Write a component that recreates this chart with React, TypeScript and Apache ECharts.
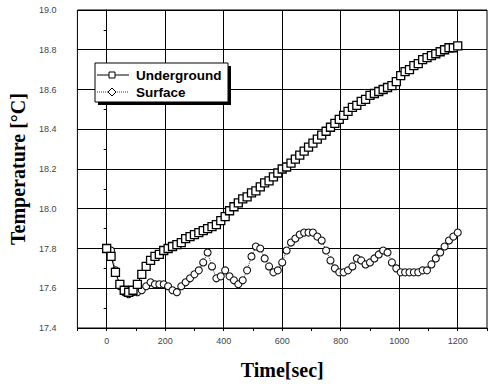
import React, { useEffect, useRef } from "react";
import * as echarts from "echarts";

const timeSec = [
  0, 15, 30, 45, 60, 75, 90, 105, 120, 135, 150, 165, 180, 195, 210, 225, 240, 255, 270, 285,
  300, 315, 330, 345, 360, 375, 390, 405, 420, 435, 450, 465, 480, 495, 510, 525, 540, 555, 570, 585,
  600, 615, 630, 645, 660, 675, 690, 705, 720, 735, 750, 765, 780, 795, 810, 825, 840, 855, 870, 885,
  900, 915, 930, 945, 960, 975, 990, 1005, 1020, 1035, 1050, 1065, 1080, 1095, 1110, 1125, 1140, 1155, 1170, 1185,
  1200,
];

const underground = [
  17.8, 17.76, 17.68, 17.62, 17.59, 17.58, 17.59, 17.62, 17.67, 17.71, 17.74, 17.76, 17.77, 17.79, 17.8, 17.81, 17.82, 17.83, 17.85, 17.86,
  17.87, 17.88, 17.89, 17.9, 17.91, 17.92, 17.94, 17.96, 17.99, 18.01, 18.03, 18.05, 18.06, 18.08, 18.09, 18.11, 18.13, 18.14, 18.16, 18.18,
  18.2, 18.21, 18.23, 18.25, 18.27, 18.29, 18.31, 18.33, 18.35, 18.37, 18.39, 18.41, 18.43, 18.45, 18.47, 18.49, 18.51, 18.52, 18.54, 18.55,
  18.57, 18.58, 18.59, 18.6, 18.61, 18.62, 18.64, 18.67, 18.69, 18.7, 18.72, 18.73, 18.75, 18.76, 18.77, 18.78, 18.79, 18.8, 18.81, 18.81,
  18.82,
];

const surface = [
  17.8, 17.79, 17.69, 17.61, 17.58, 17.57, 17.58, 17.58, 17.59, 17.61, 17.63, 17.62, 17.62, 17.62, 17.61, 17.59, 17.58, 17.61, 17.63, 17.65,
  17.67, 17.69, 17.73, 17.78, 17.71, 17.65, 17.66, 17.69, 17.66, 17.64, 17.62, 17.64, 17.69, 17.76, 17.81, 17.8, 17.75, 17.71, 17.68, 17.69,
  17.73, 17.79, 17.83, 17.85, 17.87, 17.88, 17.88, 17.88, 17.86, 17.84, 17.79, 17.74, 17.7, 17.68, 17.68, 17.69, 17.71, 17.75, 17.74, 17.72,
  17.73, 17.75, 17.77, 17.79, 17.78, 17.73, 17.7, 17.68, 17.68, 17.68, 17.68, 17.68, 17.69, 17.69, 17.72, 17.75, 17.78, 17.81, 17.84, 17.86,
  17.88,
];

const xGridValues = [0, 200, 400, 600, 800, 1000, 1200];
const seriesNames = ["Underground", "Surface"];
const xTitle = "Time[sec]";
const yTitle = "Temperature [°C]";

export default function App() {
  const ref = useRef<HTMLDivElement>(null);

  useEffect(() => {
    if (!ref.current) return;
    const chart = echarts.init(ref.current, null, { renderer: "svg" });

    const lx = 95, ly = 63, lw = 133, lh = 39;

    chart.setOption({
      animation: false,
      backgroundColor: "#fff",
      grid: {
        left: 73,
        right: 2,
        top: 10,
        bottom: 57,
        show: true,
        borderColor: "#000",
        borderWidth: 1,
        backgroundColor: "transparent",
      },
      xAxis: {
        type: "value",
        min: -100,
        max: 1300,
        interval: 100,
        axisLine: { show: true, onZero: false, lineStyle: { color: "#000", width: 1 } },
        axisTick: { show: true, inside: false, length: 3, lineStyle: { color: "#000" } },
        splitLine: { show: false },
        axisLabel: {
          margin: 8,
          fontSize: 9,
          color: "#444",
          fontFamily: "Liberation Sans, Arial, sans-serif",
          formatter: (v: number) => (v % 200 === 0 && v >= 0 && v <= 1200 ? String(v) : ""),
        },
        name: xTitle,
        nameLocation: "middle",
        nameGap: 32,
        nameTextStyle: {
          fontFamily: "Liberation Serif, Times New Roman, serif",
          fontWeight: "bold",
          fontSize: 20,
          color: "#000",
        },
      },
      yAxis: {
        type: "value",
        min: 17.4,
        max: 19.0,
        interval: 0.2,
        axisLine: { show: true, lineStyle: { color: "#000", width: 1 } },
        axisTick: { show: true, inside: false, length: 3, lineStyle: { color: "#000" } },
        minorTick: { show: true, splitNumber: 2, length: 3, lineStyle: { color: "#000" } },
        splitLine: { show: true, lineStyle: { color: "#000", width: 1 } },
        axisLabel: {
          margin: 21,
          fontSize: 9,
          color: "#444",
          fontFamily: "Liberation Sans, Arial, sans-serif",
          formatter: (v: number) => v.toFixed(1),
        },
        name: yTitle,
        nameLocation: "middle",
        nameGap: 46,
        nameTextStyle: {
          fontFamily: "Liberation Serif, Times New Roman, serif",
          fontWeight: "bold",
          fontSize: 20,
          color: "#000",
        },
      },
      series: [
        {
          name: "grid",
          type: "line",
          data: [],
          silent: true,
          z: 1,
          markLine: {
            silent: true,
            z: 1,
            symbol: ["none", "none"],
            label: { show: false },
            lineStyle: { color: "#000", width: 1, type: "solid" },
            data: xGridValues.map((v) => ({ xAxis: v })),
          },
        },
        {
          name: seriesNames[1],
          type: "line",
          z: 5,
          data: timeSec.map((t, i) => [t, surface[i]]),
          symbol: "circle",
          symbolSize: 7,
          showAllSymbol: true,
          lineStyle: { color: "#333", width: 1, type: "dotted" },
          itemStyle: { color: "#fff", borderColor: "#111", borderWidth: 1.1 },
        },
        {
          name: seriesNames[0],
          type: "line",
          z: 6,
          data: timeSec.map((t, i) => [t, underground[i]]),
          symbol: "rect",
          symbolSize: 8,
          showAllSymbol: true,
          lineStyle: { color: "#000", width: 1 },
          itemStyle: { color: "#fff", borderColor: "#000", borderWidth: 1.3 },
        },
      ],
      graphic: [
        { type: "rect", z: 100, shape: { x: lx + 3, y: ly + 3, width: lw, height: lh }, style: { fill: "#000" } },
        { type: "rect", z: 101, shape: { x: lx, y: ly, width: lw, height: lh }, style: { fill: "#fff", stroke: "#000", lineWidth: 1 } },
        { type: "line", z: 102, shape: { x1: lx + 2, y1: ly + 12, x2: lx + 34, y2: ly + 12 }, style: { stroke: "#000", lineWidth: 1 } },
        { type: "rect", z: 103, shape: { x: lx + 14, y: ly + 9, width: 6, height: 6 }, style: { fill: "#fff", stroke: "#000", lineWidth: 1 } },
        { type: "text", z: 103, x: lx + 41, y: ly + 12, style: { text: seriesNames[0], fontFamily: "Liberation Sans, Arial, sans-serif", fontWeight: "bold", fontSize: 13.5, fill: "#000", verticalAlign: "middle" } },
        { type: "line", z: 102, shape: { x1: lx + 2, y1: ly + 29, x2: lx + 34, y2: ly + 29 }, style: { stroke: "#333", lineWidth: 1, lineDash: [1, 1] } },
        { type: "polygon", z: 103, shape: { points: [[lx + 17, ly + 25], [lx + 21, ly + 29], [lx + 17, ly + 33], [lx + 13, ly + 29]] }, style: { fill: "#fff", stroke: "#000", lineWidth: 1 } },
        { type: "text", z: 103, x: lx + 41, y: ly + 29, style: { text: seriesNames[1], fontFamily: "Liberation Sans, Arial, sans-serif", fontWeight: "bold", fontSize: 13.5, fill: "#000", verticalAlign: "middle" } },
      ],
    });

    return () => chart.dispose();
  }, []);

  return (
    <div
      ref={ref}
      style={{ position: "fixed", left: 0, top: 0, width: 490, height: 385 }}
    />
  );
}
